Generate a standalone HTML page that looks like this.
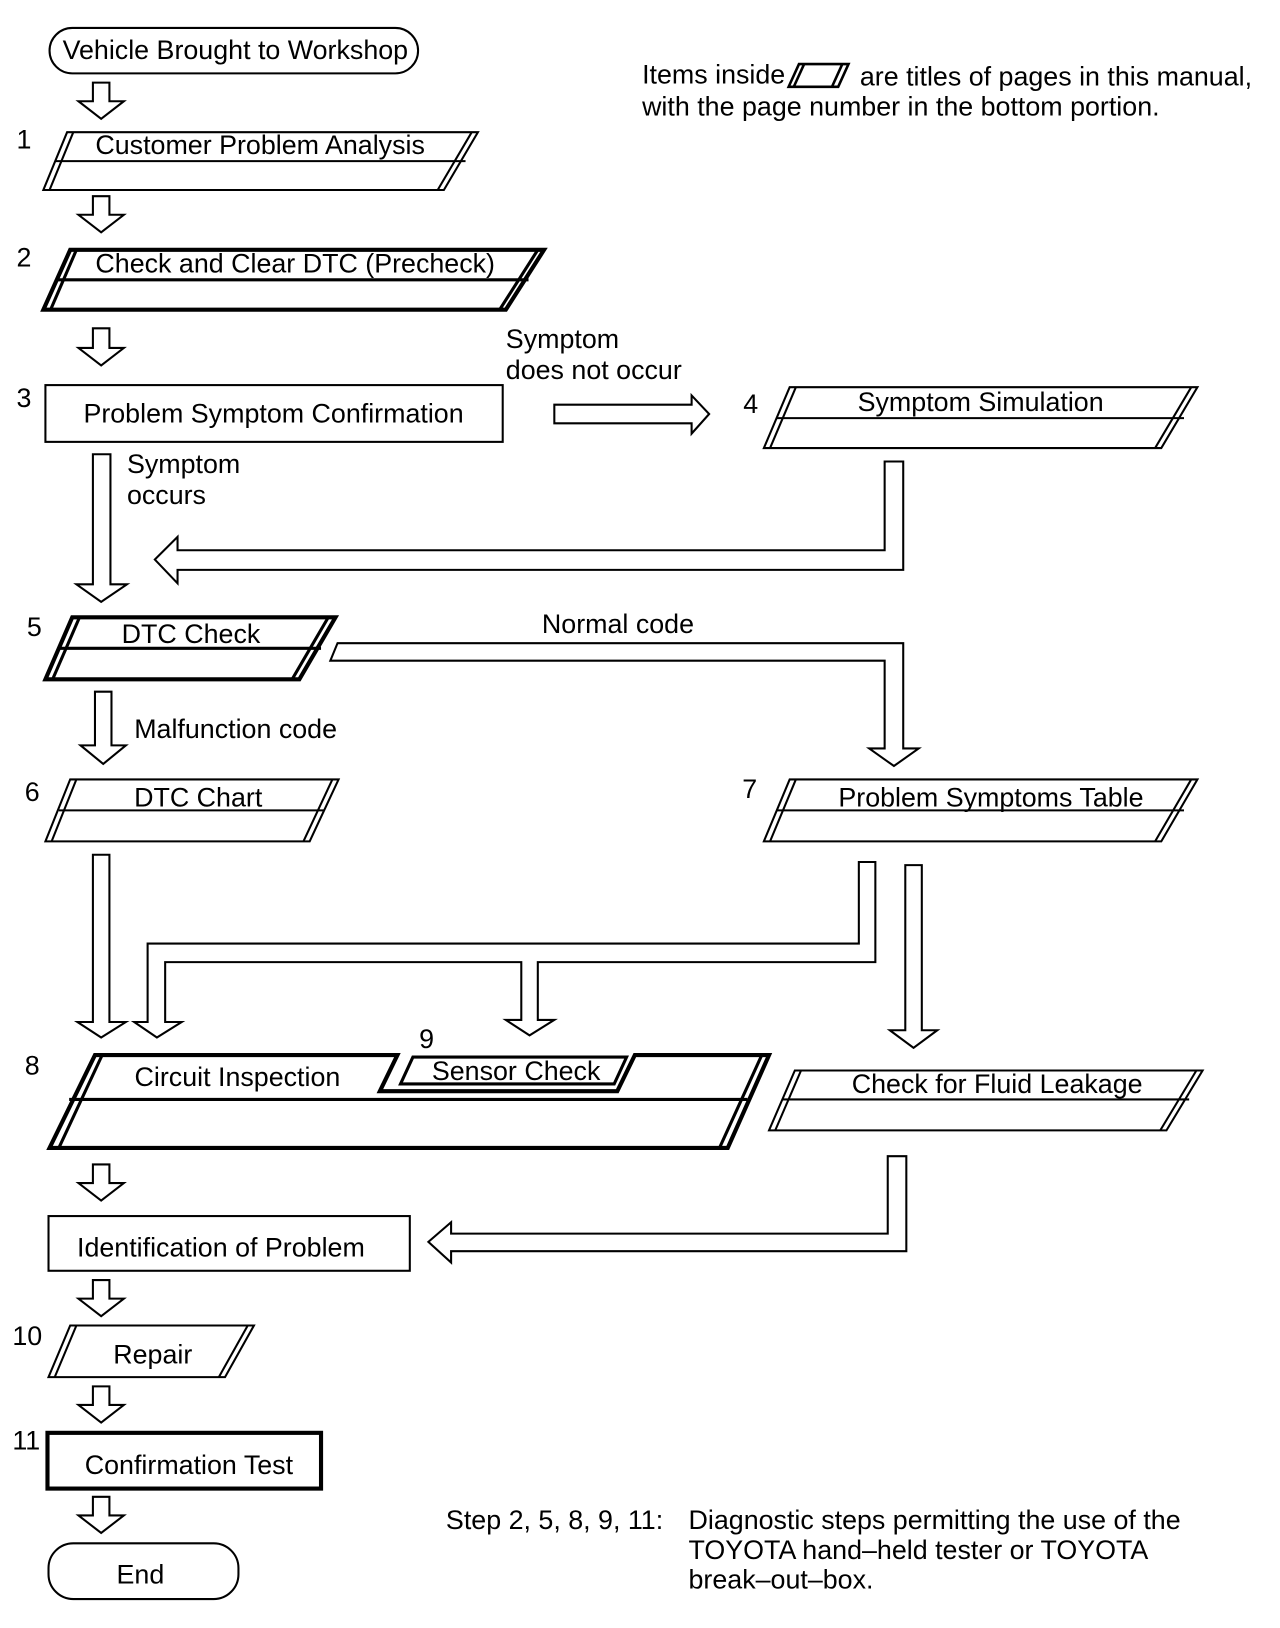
<!DOCTYPE html>
<html><head><meta charset="utf-8"><style>
html,body{margin:0;padding:0;background:#fff;}
svg{display:block;}
text{font-family:"Liberation Sans",Arial,sans-serif;fill:#000;}
</style></head><body>
<svg width="1280" height="1628" viewBox="0 0 1240 1577" xmlns="http://www.w3.org/2000/svg">
<g fill="#fff" stroke="#000" stroke-width="2" stroke-linejoin="miter">
<rect x="48" y="27" width="357" height="44" rx="22"/>
<path d="M90,80 L106,80 L106,98 L120,98 L98,115 L76,98 L90,98 Z"/>
<path d="M90,190 L106,190 L106,208 L120,208 L98,225 L76,208 L90,208 Z"/>
<path d="M90,318 L106,318 L106,337 L120,337 L98,354 L76,337 L90,337 Z"/>
<path d="M90,1128 L106,1128 L106,1146 L120,1146 L98,1163 L76,1146 L90,1146 Z"/>
<path d="M90,1240 L106,1240 L106,1258 L120,1258 L98,1275 L76,1258 L90,1258 Z"/>
<path d="M90,1343 L106,1343 L106,1361 L120,1361 L98,1378 L76,1361 L90,1361 Z"/>
<path d="M90,1450 L106,1450 L106,1468 L120,1468 L98,1485 L76,1468 L90,1468 Z"/>
<path d="M65,128 L463,128 L430,184 L42,184 Z"/>
<line x1="71" y1="128" x2="48" y2="184"/><line x1="457" y1="128" x2="424" y2="184"/>
<line x1="53" y1="156" x2="451" y2="156"/>
<path d="M68,242 L527,242 L490,300 L42,300 Z" stroke-width="4"/>
<line x1="74" y1="242" x2="49" y2="300" stroke-width="3"/><line x1="521" y1="242" x2="484" y2="300" stroke-width="3"/>
<line x1="56" y1="271" x2="512" y2="271" stroke-width="3"/>
<rect x="44" y="373" width="443" height="55"/>
<path d="M537,392 L670,392 L670,383 L687,401 L670,420 L670,410 L537,410 Z"/>
<path d="M765,375 L1160,375 L1125,434 L740,434 Z"/>
<line x1="771" y1="375" x2="746" y2="434"/><line x1="1154" y1="375" x2="1119" y2="434"/>
<line x1="752" y1="405" x2="1147" y2="405"/>
<path d="M857,447 L875,447 L875,552 L172,552 L172,565 L150,542 L172,520 L172,533 L857,533 Z"/>
<path d="M90,440 L107,440 L107,566 L123,566 L98,583 L74,566 L90,566 Z"/>
<path d="M70,598 L325,598 L290,658 L44,658 Z" stroke-width="4"/>
<line x1="77" y1="598" x2="51" y2="658" stroke-width="3"/><line x1="318" y1="598" x2="283" y2="658" stroke-width="3"/>
<line x1="57" y1="628" x2="311" y2="628" stroke-width="3"/>
<path d="M327,623 L875,623 L875,725 L890,725 L866,742 L842,725 L857,725 L857,640 L320,640 Z"/>
<path d="M92,670 L108,670 L108,722 L122,722 L100,740 L78,722 L92,722 Z"/>
<path d="M68,755 L328,755 L300,815 L44,815 Z"/>
<line x1="74" y1="755" x2="50" y2="815"/><line x1="322" y1="755" x2="294" y2="815"/>
<line x1="57" y1="785" x2="314" y2="785"/>
<path d="M765,755 L1160,755 L1125,815 L740,815 Z"/>
<line x1="771" y1="755" x2="746" y2="815"/><line x1="1154" y1="755" x2="1119" y2="815"/>
<line x1="752" y1="785" x2="1147" y2="785"/>
<path d="M90,828 L106,828 L106,990 L122,990 L98,1005 L75,990 L90,990 Z"/>
<path d="M832,835 L848,835 L848,932 L521,932 L521,988 L537,988 L513,1003 L490,988 L505,988 L505,932 L160,932 L160,990 L176,990 L152,1005 L130,990 L143,990 L143,914 L832,914 Z"/>
<path d="M877,838 L893,838 L893,998 L908,998 L885,1015 L862,998 L877,998 Z"/>
<path d="M92,1022 L385,1022 L368,1057 L598,1057 L615,1022 L745,1022 L705,1112 L48,1112 Z" stroke-width="4"/>
<line x1="99" y1="1022" x2="57" y2="1112" stroke-width="3"/><line x1="738" y1="1022" x2="697" y2="1112" stroke-width="3"/>
<line x1="67" y1="1065" x2="724" y2="1065" stroke-width="3"/>
<path d="M400,1024 L607,1024 L595,1050 L388,1050 Z" stroke-width="3"/>
<path d="M770,1037 L1165,1037 L1130,1095 L745,1095 Z"/>
<line x1="776" y1="1037" x2="751" y2="1095"/><line x1="1159" y1="1037" x2="1124" y2="1095"/>
<line x1="758" y1="1065" x2="1152" y2="1065"/>
<path d="M860,1120 L878,1120 L878,1212 L437,1212 L437,1223 L415,1203 L437,1184 L437,1195 L860,1195 Z"/>
<rect x="47" y="1178" width="350" height="53"/>
<path d="M68,1284 L246,1284 L218,1334 L47,1334 Z"/>
<line x1="74" y1="1284" x2="53" y2="1334"/><line x1="240" y1="1284" x2="212" y2="1334"/>
<rect x="46" y="1388" width="265" height="54" stroke-width="4"/>
<rect x="47" y="1495" width="184" height="54" rx="24"/>
<path d="M774,62 L822,62 L812,84 L764,84 Z" stroke-width="2.5"/>
<line x1="779" y1="62" x2="769" y2="84" stroke-width="2.5"/><line x1="816" y1="62" x2="806" y2="84" stroke-width="2.5"/>
</g>
<g font-size="26">
<text x="228" y="57" text-anchor="middle">Vehicle Brought to Workshop</text>
<text x="622" y="81">Items inside</text>
<text x="833" y="83">are titles of pages in this manual,</text>
<text x="622" y="112">with the page number in the bottom portion.</text>
<text x="16" y="144">1</text>
<text x="252" y="149" text-anchor="middle">Customer Problem Analysis</text>
<text x="16" y="258">2</text>
<text x="286" y="264" text-anchor="middle">Check and Clear DTC (Precheck)</text>
<text x="16" y="394">3</text>
<text x="265" y="409" text-anchor="middle">Problem Symptom Confirmation</text>
<text x="490" y="337">Symptom</text>
<text x="490" y="367">does not occur</text>
<text x="720" y="400">4</text>
<text x="950" y="398" text-anchor="middle">Symptom Simulation</text>
<text x="123" y="458">Symptom</text>
<text x="123" y="488">occurs</text>
<text x="26" y="616">5</text>
<text x="185" y="623" text-anchor="middle">DTC Check</text>
<text x="525" y="613">Normal code</text>
<text x="130" y="715">Malfunction code</text>
<text x="24" y="776">6</text>
<text x="192" y="781" text-anchor="middle">DTC Chart</text>
<text x="719" y="773">7</text>
<text x="960" y="781" text-anchor="middle">Problem Symptoms Table</text>
<text x="24" y="1041">8</text>
<text x="406" y="1015">9</text>
<text x="230" y="1052" text-anchor="middle">Circuit Inspection</text>
<text x="500" y="1046" text-anchor="middle">Sensor Check</text>
<text x="966" y="1059" text-anchor="middle">Check for Fluid Leakage</text>
<text x="214" y="1217" text-anchor="middle">Identification of Problem</text>
<text x="12" y="1303">10</text>
<text x="148" y="1321" text-anchor="middle">Repair</text>
<text x="12" y="1404">11</text>
<text x="183" y="1428" text-anchor="middle">Confirmation Test</text>
<text x="136" y="1534" text-anchor="middle">End</text>
<text x="432" y="1481">Step 2, 5, 8, 9, 11:</text>
<text x="667" y="1481">Diagnostic steps permitting the use of the</text>
<text x="667" y="1510">TOYOTA hand–held tester or TOYOTA</text>
<text x="667" y="1539">break–out–box.</text>
</g>
</svg>
</body></html>
